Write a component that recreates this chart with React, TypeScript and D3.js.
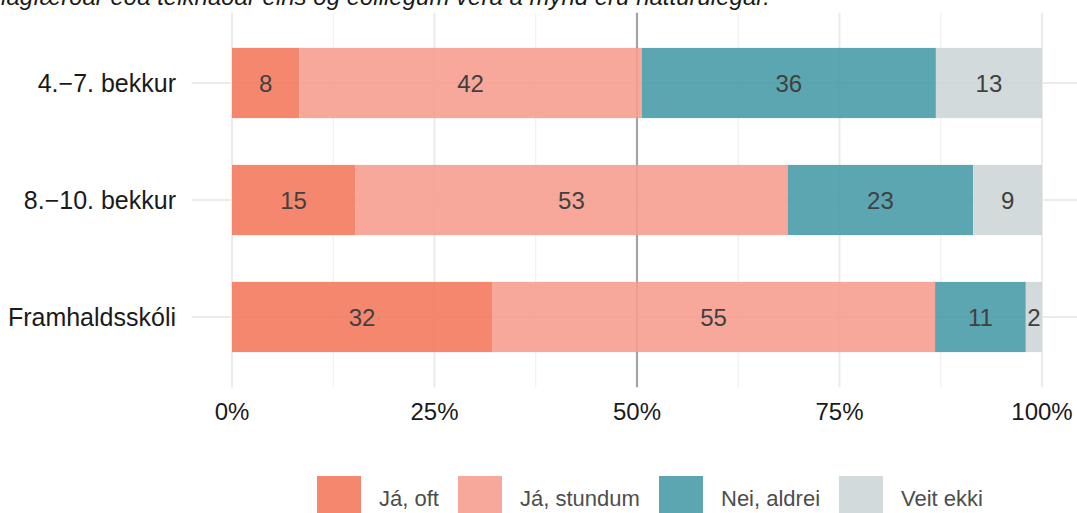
import React from "react";
import * as d3 from "d3";

const categories = ["4.−7. bekkur", "8.−10. bekkur", "Framhaldsskóli"];
const seriesNames = ["Já, oft", "Já, stundum", "Nei, aldrei", "Veit ekki"];
const jaOft = [8.3, 15.2, 32.1];
const jaStundum = [42.3, 53.4, 54.7];
const neiAldrei = [36.3, 22.9, 11.2];
const veitEkki = [13.1, 8.5, 2.0];
const xTicks = [0, 0.25, 0.5, 0.75, 1];
const xTickLabels = ["0%", "25%", "50%", "75%", "100%"];
const titleText =
  "Heldur þú að myndir af fólki á netinu séu lagfærðar eða teiknaðar eins og eðlilegum vera á mynd eru náttúrulegar.";

const colors = ["#F47A5F", "#F79F8F", "#499CA9", "#CED6D8"];

export default function App() {
  const W = 1077;
  const H = 513;
  const x = d3.scaleLinear().domain([0, 1]).range([232, 1042]);
  const y = d3.scalePoint<string>().domain(categories).range([12.8, 387.2]).padding(0.6);
  const step = y.step();
  const barH = step * 0.6;
  const panelTop = 12.8;
  const panelBottom = 387.2;
  const panelLeft = 191.5;
  const panelRight = 1082.5;
  const series = [jaOft, jaStundum, neiAldrei, veitEkki];

  const rows = categories.map((c, i) => {
    const vals = series.map((s) => s[i]);
    const total = d3.sum(vals);
    let cum = 0;
    return vals.map((v, k) => {
      const start = cum / total;
      cum += v;
      const end = cum / total;
      return { c, k, v, start, end };
    });
  });

  const minor = [0.125, 0.375, 0.625, 0.875];
  const font = "'Liberation Sans', Arial, sans-serif";
  const legendBoxes = [317, 458, 659, 839];

  return (
    <svg width={W} height={H} style={{ position: "absolute", left: 0, top: 0 }} fontFamily={font}>
      <rect x={0} y={0} width={W} height={H} fill="#fff" />
      <text x={770} y={5} textAnchor="end" fontStyle="italic" fontSize={24} fill="#1a1a1a">
        {titleText}
      </text>
      {minor.map((t) => (
        <line key={"m" + t} x1={x(t)} x2={x(t)} y1={panelTop} y2={panelBottom} stroke="#f0f0f0" strokeWidth={1.2} />
      ))}
      {xTicks.map((t) => (
        <line key={"g" + t} x1={x(t)} x2={x(t)} y1={panelTop} y2={panelBottom} stroke="#ebebeb" strokeWidth={2} />
      ))}
      {categories.map((c) => (
        <line key={"h" + c} x1={panelLeft} x2={panelRight} y1={y(c)!} y2={y(c)!} stroke="#ebebeb" strokeWidth={2} />
      ))}
      <line x1={x(0.5)} x2={x(0.5)} y1={panelTop} y2={panelBottom} stroke="#a3a3a3" strokeWidth={2.2} />
      {rows.map((r) =>
        r.map((d) => (
          <rect
            key={d.c + d.k}
            x={x(d.start)}
            width={x(d.end) - x(d.start)}
            y={y(d.c)! - barH / 2}
            height={barH}
            fill={colors[d.k]}
            fillOpacity={0.9}
          />
        ))
      )}
      {rows.map((r) =>
        r.map((d) => (
          <text
            key={"t" + d.c + d.k}
            x={(x(d.start) + x(d.end)) / 2}
            y={y(d.c)!}
            dy="0.36em"
            textAnchor="middle"
            fontSize={24}
            fill="#404040"
          >
            {Math.round(d.v)}
          </text>
        ))
      )}
      {categories.map((c) => (
        <text key={"yl" + c} x={176} y={y(c)!} dy="0.36em" textAnchor="end" fontSize={25} fill="#1a1a1a">
          {c}
        </text>
      ))}
      {xTicks.map((t, i) => (
        <text key={"xl" + t} x={x(t)} y={420} textAnchor="middle" fontSize={24} fill="#1a1a1a">
          {xTickLabels[i]}
        </text>
      ))}
      {seriesNames.map((s, i) => (
        <g key={"lg" + s}>
          <rect x={legendBoxes[i]} y={476} width={44} height={44} fill={colors[i]} fillOpacity={0.9} />
          <text x={legendBoxes[i] + 62} y={506} fontSize={22} fill="#4d4d4d">
            {s}
          </text>
        </g>
      ))}
    </svg>
  );
}
